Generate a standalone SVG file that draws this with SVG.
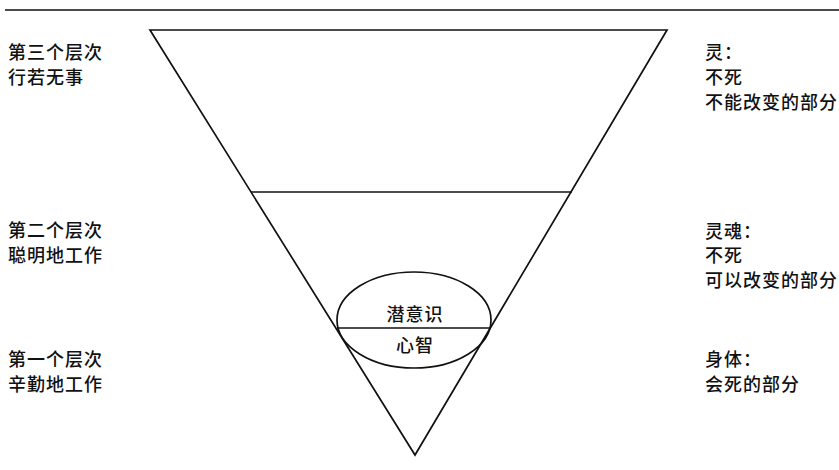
<svg xmlns="http://www.w3.org/2000/svg" width="839" height="470" viewBox="0 0 839 470">
<style>
.t{font-family:"Liberation Sans","Noto Sans CJK SC",sans-serif;font-size:18px;font-weight:500;letter-spacing:1px;fill:#111}
.c{text-anchor:middle}
.s{fill:none;stroke:#111;stroke-width:1.7}
</style>
<rect width="839" height="470" fill="#fff"/>
<g id="connectors">
<line class="s" x1="5" y1="10" x2="839" y2="10"/>
</g>
<g id="triangle">
<polygon class="s" points="150,30 667,30 415,455"/>
<line class="s" x1="251" y1="192" x2="572" y2="192"/>
</g>
<g id="mind">
<ellipse class="s" cx="414" cy="320" rx="77" ry="48"/>
<line class="s" x1="337" y1="328" x2="491" y2="328"/>
<text class="t c" x="415" y="321">潜意识</text>
<text class="t c" x="415" y="352">心智</text>
</g>
<g id="level3">
<text class="t" x="8" y="59">第三个层次</text>
<text class="t" x="8" y="84">行若无事</text>
</g>
<g id="level2">
<text class="t" x="8" y="237">第二个层次</text>
<text class="t" x="8" y="262">聪明地工作</text>
</g>
<g id="level1">
<text class="t" x="8" y="366">第一个层次</text>
<text class="t" x="8" y="391">辛勤地工作</text>
</g>
<g id="spirit">
<text class="t" x="705" y="59">灵：</text>
<text class="t" x="705" y="84">不死</text>
<text class="t" x="705" y="109">不能改变的部分</text>
</g>
<g id="soul">
<text class="t" x="705" y="238">灵魂：</text>
<text class="t" x="705" y="262">不死</text>
<text class="t" x="705" y="287">可以改变的部分</text>
</g>
<g id="body">
<text class="t" x="705" y="366">身体：</text>
<text class="t" x="705" y="391">会死的部分</text>
</g>
</svg>
